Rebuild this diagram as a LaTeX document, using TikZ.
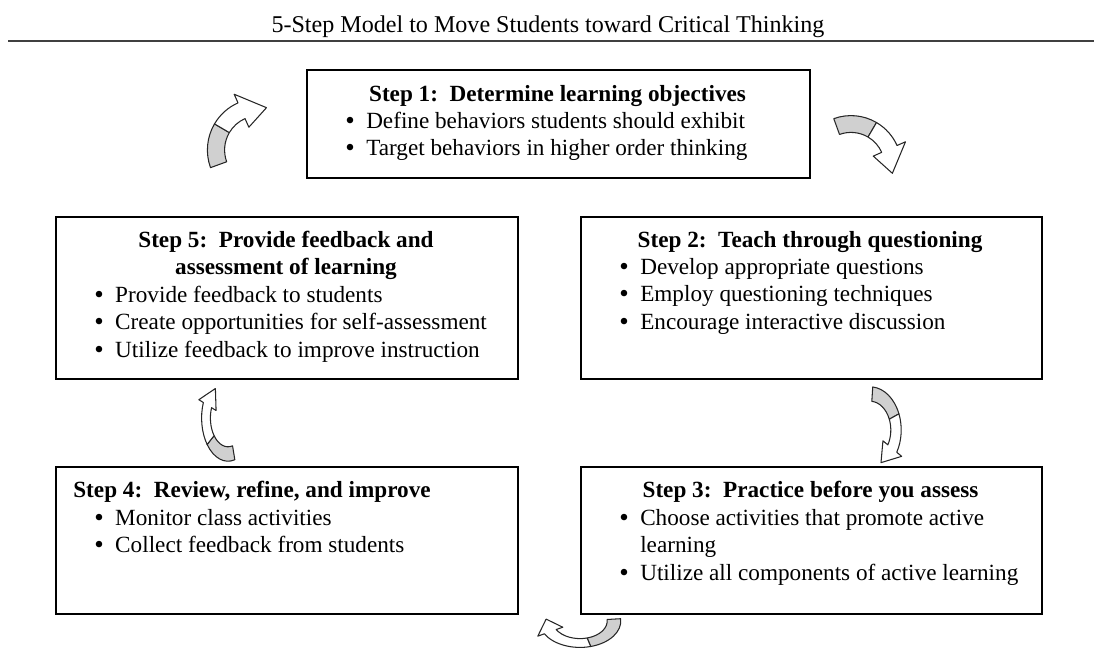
\documentclass[tikz,border=0pt]{standalone}
\usepackage{fontspec}
\setmainfont{Liberation Serif}
\usetikzlibrary{positioning}

\definecolor{tailgray}{RGB}{208,208,208}
\newcommand{\bodyfont}{\fontsize{13.2}{15.65}\selectfont}
\newcommand{\bul}{\raisebox{-0.6pt}{\fontsize{15.4}{0}\selectfont\textbullet}}
\newcommand{\bulletlist}[1]{\begin{tabular}[t]{@{}l@{\hspace{6.5pt}}l@{}}#1\end{tabular}}

% curved block arrow: center, x radius, y radius (px), tail angle, tip angle
\newcommand{\bentarrow}[5]{%
  \pgfmathsetmacro{\grayend}{#4-0.42*(#4-#5)}%
  \pgfmathsetmacro{\headbase}{#5+34}%
  \begin{scope}[shift={#1}, x=#2*0.02cm, y=#3*0.02cm]
    \filldraw[tailpart] (#4:1.2) arc[start angle=#4, end angle=\grayend, radius=1.2]
      -- (\grayend:0.8) arc[start angle=\grayend, end angle=#4, radius=0.8] -- cycle;
    \filldraw[headpart] (\grayend:1.2) arc[start angle=\grayend, end angle=\headbase, radius=1.2]
      -- (\headbase:1.42) -- (#5:1) -- (\headbase:0.58) -- (\headbase:0.8)
      arc[start angle=\headbase, end angle=\grayend, radius=0.8] -- cycle;
  \end{scope}}

\begin{document}
\begin{tikzpicture}[
    x=0.02cm, y=-0.02cm,
    title/.style={font=\fontsize{13.7}{16}\selectfont, inner sep=0pt, anchor=base},
    rule/.style={line width=1.3pt, black!75},
    stepbox/.style={
        rectangle,
        draw=black,
        line width=1.1pt,
        anchor=north west,
        inner sep=0pt
    },
    heading/.style={font=\bodyfont\bfseries, inner sep=0pt, anchor=base},
    bullets/.style={font=\bodyfont, inner sep=0pt, anchor=base west},
    tailpart/.style={draw=black!85, fill=tailgray, line width=0.6pt, line join=round},
    headpart/.style={draw=black!85, fill=white, line width=0.6pt, line join=round}
]
\useasboundingbox (0,0) rectangle (1094,664);

\node[title] (title) at (548,32) {5-Step Model to Move Students toward Critical Thinking};
\draw[rule] (8,41) -- (1094,41);

% the five boxes
\node[stepbox, minimum width=10.06cm, minimum height=2.16cm] (s1) at (306,69) {};
\node[stepbox, minimum width=9.24cm, minimum height=3.24cm] (s5) at (55,216) {};
\node[stepbox, minimum width=9.22cm, minimum height=3.24cm] (s2) at (580,216) {};
\node[stepbox, minimum width=9.24cm, minimum height=2.94cm] (s4) at (55,466) {};
\node[stepbox, minimum width=9.22cm, minimum height=2.94cm] (s3) at (580,466) {};

% step 1
\node[heading] (s1head) at (557.5,101) {Step 1:\ \ Determine learning objectives};
\node[bullets] (s1list) at (345,128) {\bulletlist{
    \bul & Define behaviors students should exhibit\\
    \bul & Target behaviors in higher order thinking}};

% step 2
\node[heading] (s2head) at (810,247) {Step 2:\ \ Teach through questioning};
\node[bullets] (s2list) at (619,274) {\bulletlist{
    \bul & Develop appropriate questions\\
    \bul & Employ questioning techniques\\
    \bul & Encourage interactive discussion}};

% step 3
\node[heading] (s3head) at (810.5,497) {Step 3:\ \ Practice before you assess};
\node[bullets] (s3list) at (619,525) {\bulletlist{
    \bul & Choose activities that promote active\\
         & learning\\
    \bul & Utilize all components of active learning}};

% step 4
\node[heading, anchor=base west] (s4head) at (73,497) {Step 4:\ \ Review, refine, and improve};
\node[bullets] (s4list) at (94,525) {\bulletlist{
    \bul & Monitor class activities\\
    \bul & Collect feedback from students}};

% step 5
\node[heading] (s5head) at (286,247) {\begin{tabular}[t]{@{}c@{}}
    Step 5:\ \ Provide feedback and\\ assessment of learning\end{tabular}};
\node[bullets] (s5list) at (94,302) {\bulletlist{
    \bul & Provide feedback to students\\
    \bul & Create opportunities for self-assessment\\
    \bul & Utilize feedback to improve instruction}};

% curved arrows between the steps
\bentarrow{(259,150)}{43}{43}{200}{80}
\bentarrow{(851,166)}{42}{42}{110}{-10}
\bentarrow{(870,430)}{26}{36}{85}{-65}
\bentarrow{(580,621)}{34}{22}{5}{-185}
\bentarrow{(228,418)}{22}{36}{-75}{-235}

\end{tikzpicture}
\end{document}
